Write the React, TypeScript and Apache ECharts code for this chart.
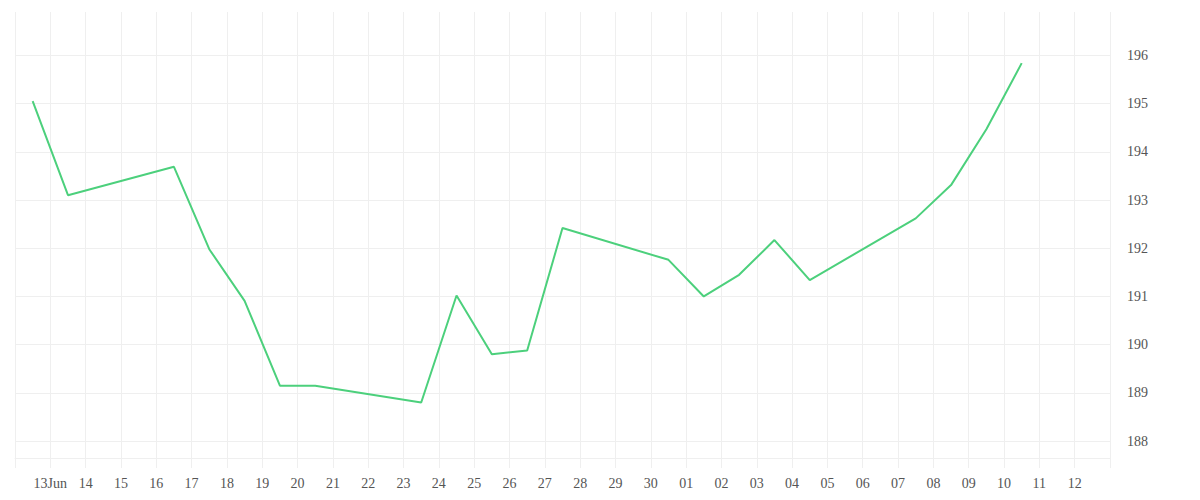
import React, { useEffect, useRef } from "react";
import * as echarts from "echarts";

// day index from 12 Jun (0) ; each point sits at midday of its day
const dayIndex = [0, 1, 4, 5, 6, 7, 8, 11, 12, 13, 14, 15, 18, 19, 20, 21, 22, 25, 26, 27, 28];
const prices = [
  195.05, 193.1, 193.69, 191.98, 190.91, 189.15, 189.15, 188.8, 191.02, 189.8, 189.88,
  192.42, 191.76, 191.0, 191.45, 192.17, 191.34, 192.62, 193.31, 194.47, 195.84,
];
// tick labels for day boundaries 0..31
const xTickLabels = [
  "", "13Jun", "14", "15", "16", "17", "18", "19", "20", "21", "22", "23", "24", "25", "26", "27",
  "28", "29", "30", "01", "02", "03", "04", "05", "06", "07", "08", "09", "10", "11", "12", "",
];
const yTicks = [188, 189, 190, 191, 192, 193, 194, 195, 196];

export default function App() {
  const ref = useRef<HTMLDivElement>(null);
  useEffect(() => {
    document.body.style.margin = "0";
    if (!ref.current) return;
    const chart = echarts.init(ref.current, undefined, { renderer: "svg" });
    const gridColor = "#efefef";
    const font = "'Liberation Serif', serif";
    chart.setOption({
      animation: false,
      backgroundColor: "#ffffff",
      grid: { left: 15, right: 90, top: 12, bottom: 42, containLabel: false },
      xAxis: {
        type: "value",
        min: 0,
        max: 31,
        interval: 1,
        axisLine: { show: true, lineStyle: { color: gridColor, width: 1 } },
        axisTick: { show: true, length: 10, lineStyle: { color: gridColor } },
        splitLine: { show: true, lineStyle: { color: gridColor, width: 1 } },
        axisLabel: {
          margin: 18,
          fontSize: 14,
          color: "#555",
          fontFamily: font,
          formatter: (v: number) => xTickLabels[Math.round(v)] ?? "",
        },
      },
      yAxis: {
        type: "value",
        position: "right",
        min: 187.65,
        max: 196.9,
        interval: 0.05,
        axisLine: { show: false },
        axisTick: { show: false },
        splitLine: { show: false },
        axisLabel: {
          margin: 17,
          fontSize: 14,
          color: "#555",
          fontFamily: font,
          formatter: (v: number) => (Math.abs(v - Math.round(v)) < 1e-6 ? String(Math.round(v)) : ""),
        },
      },
      series: [
        {
          type: "line",
          data: dayIndex.map((d, i) => [d + 0.5, prices[i]]),
          showSymbol: false,
          lineStyle: { color: "#4cd07c", width: 2 },
          itemStyle: { color: "#4cd07c" },
          z: 3,
          markLine: {
            silent: true,
            symbol: ["none", "none"],
            label: { show: false },
            lineStyle: { color: gridColor, type: "solid", width: 1 },
            z: 1,
            data: yTicks.map((t) => ({ yAxis: t })),
          },
        },
      ],
    });
    return () => chart.dispose();
  }, []);
  return <div ref={ref} style={{ width: 1200, height: 500 }} />;
}
